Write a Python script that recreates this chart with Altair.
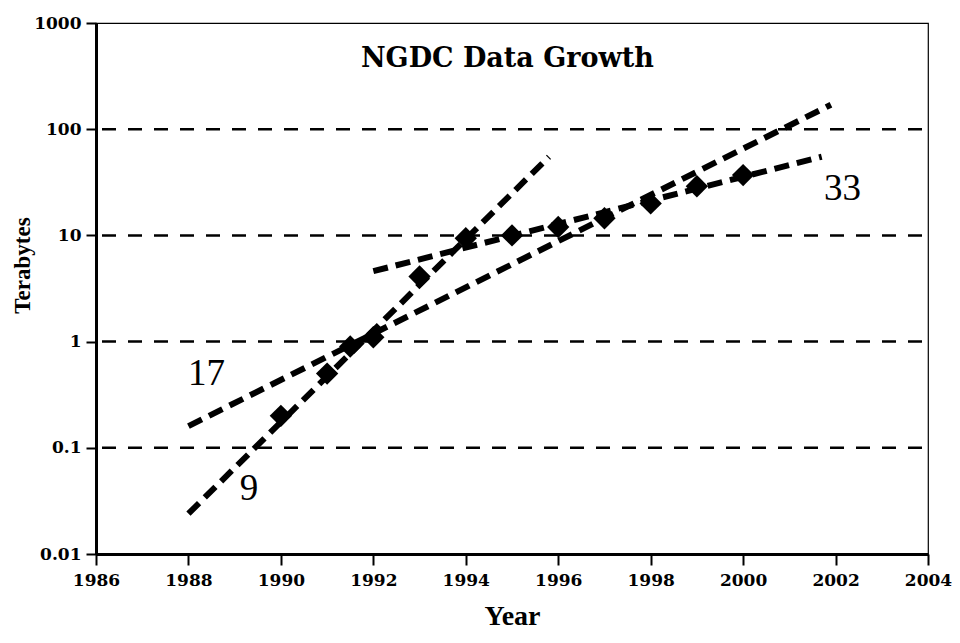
import altair as alt
import pandas as pd

# Observed data points (diamonds)
years = [1990, 1991, 1991.5, 1992, 1993, 1994, 1995, 1996, 1997, 1998, 1999, 2000]
terabytes = [0.2, 0.5, 0.9, 1.1, 4.1, 9.4, 10, 12, 14.5, 20, 29, 37]

# Dashed trend lines (doubling time in months)
trend_names = ["9", "9", "17", "17", "33", "33"]
trend_years = [1988, 1995.8, 1988, 2001.9, 1992, 2001.7]
trend_values = [0.024, 55, 0.16, 170, 4.6, 55]

# Horizontal dashed grid lines
grid_values = [0.1, 1, 10, 100]

# Trend labels
label_text = ["17", "9", "33"]
label_years = [1988.39, 1989.31, 2002.15]
label_values = [0.39, 0.032, 21.5]

# In-plot title
title_text = ["NGDC Data Growth"]
title_year = [1994.9]
title_value = [385]

x_ticks = list(range(1986, 2005, 2))
y_ticks = [0.01, 0.1, 1, 10, 100, 1000]

pts = pd.DataFrame({"year": years, "tb": terabytes})
trends = pd.DataFrame({"name": trend_names, "year": trend_years, "tb": trend_values})
grid = pd.DataFrame({"tb": grid_values})
labels = pd.DataFrame({"text": label_text, "year": label_years, "tb": label_values})
ttl = pd.DataFrame({"text": title_text, "year": title_year, "tb": title_value})

xs = alt.Scale(domain=[1986, 2004], nice=False, zero=False)
ys = alt.Scale(type="log", domain=[0.01, 1000], nice=False)

x_axis = alt.Axis(
    values=x_ticks, format="d", title="Year", grid=False,
    domainWidth=3, domainColor="black", tickColor="black", tickWidth=2,
    tickSize=11, labelPadding=7, labelFont="DejaVu Serif", labelFontWeight="bold",
    labelFontSize=17, labelColor="black", labelFlush=False, labelOverlap=False,
    titleFont="Liberation Serif", titleFontWeight="bold", titleFontSize=28,
    titleColor="black", titleY=70, titleBaseline="alphabetic", zindex=1,
)
y_axis = alt.Axis(
    values=y_ticks, format="~g", title="Terabytes", grid=False,
    domainWidth=3, domainColor="black", tickColor="black", tickWidth=2,
    tickSize=10, labelPadding=5, labelFont="DejaVu Serif", labelFontWeight="bold",
    labelFontSize=17, labelColor="black", labelOverlap=False,
    titleFont="Liberation Serif", titleFontWeight="bold", titleFontSize=23,
    titleColor="black", titleX=-74, titleY=242, titleBaseline="middle", zindex=1,
)

def X():
    return alt.X("year:Q", scale=xs, axis=x_axis)

def Y():
    return alt.Y("tb:Q", scale=ys, axis=y_axis)

rules = alt.Chart(grid).mark_rule(
    color="black", strokeWidth=2.5, strokeDash=[14, 12], strokeDashOffset=20
).encode(y=Y())

lines = alt.Chart(trends).mark_line(
    color="black", strokeWidth=6, strokeDash=[15, 8], strokeCap="butt"
).encode(x=X(), y=Y(), detail="name:N")

points = alt.Chart(pts).mark_point(
    shape="diamond", filled=True, size=500, color="black", opacity=1
).encode(x=X(), y=Y())

lbl = alt.Chart(labels).mark_text(
    font="Liberation Serif", fontSize=37, baseline="alphabetic", align="center", color="black"
).encode(x=X(), y=Y(), text="text:N")

title = alt.Chart(ttl).mark_text(
    font="DejaVu Serif", fontSize=27, fontWeight="bold", baseline="alphabetic",
    align="center", color="black"
).encode(x=X(), y=Y(), text="text:N")

chart = alt.layer(rules, lines, points, lbl, title).properties(
    width=832, height=531,
    autosize=alt.AutoSizeParams(type="none"),
    padding={"left": 88, "top": 15, "right": 24, "bottom": 77},
    background="white",
).configure_view(stroke="black", strokeWidth=1.2)

chart.save("out.html", embed_options={"renderer": "svg", "actions": False})
